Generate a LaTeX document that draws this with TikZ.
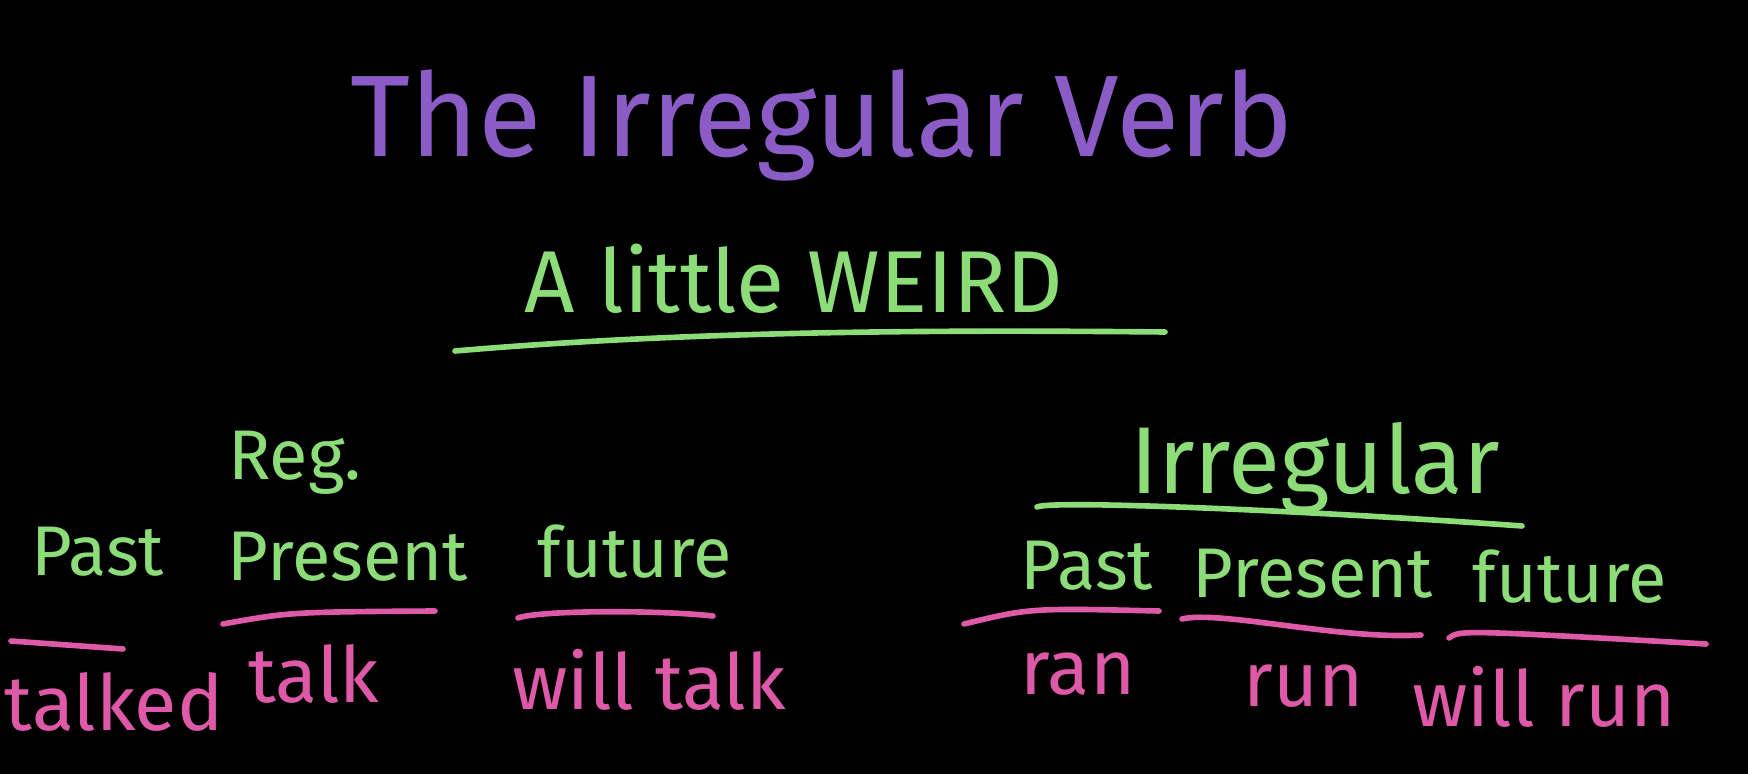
\documentclass[tikz,border=0pt]{standalone}
\usepackage{fontspec}
\setmainfont{Fira Sans}
\usetikzlibrary{positioning}
\definecolor{board}{HTML}{000000}
\definecolor{chalkpurple}{HTML}{8B5CC6}
\definecolor{chalkgreen}{HTML}{8CDC78}
\definecolor{chalkpink}{HTML}{DE5AA8}

\begin{document}
\begin{tikzpicture}[
   heading/.style={text=chalkpurple,font=\fontsize{33}{36}\selectfont,inner sep=0pt},
   remark/.style={text=chalkgreen,font=\fontsize{25}{28}\selectfont,inner sep=0pt},
   tense/.style={text=chalkgreen,font=\fontsize{20}{24}\selectfont,inner sep=0pt},
   group/.style={text=chalkgreen,font=\fontsize{27}{30}\selectfont,inner sep=0pt},
   form/.style={text=chalkpink,font=\fontsize{22}{26}\selectfont,inner sep=0pt},
   greenline/.style={draw=chalkgreen,line width=1.6pt,line cap=round},
   pinkline/.style={draw=chalkpink,line width=1.6pt,line cap=round}]
  % blackboard
  \fill[board] (0,0) rectangle (17.48,-7.74);
  \useasboundingbox (0,0) rectangle (17.48,-7.74);

  \node[heading] (title) at (8.22,-1.25) {The Irregular Verb};
  \node[remark] (weird) at (7.94,-2.79) {A little WEIRD};
  \draw[greenline] (4.55,-3.51) .. controls (7,-3.3) and (9.5,-3.3) .. (11.65,-3.32);

  % regular side
  \node[tense] (reg) at (2.95,-4.63) {Reg.};
  \node[tense] (pastL) at (0.98,-5.52) {Past};
  \node[tense] (presL) at (3.48,-5.57) {Present};
  \node[tense] (futL) at (6.35,-5.52) {future};
  \draw[pinkline] (0.11,-6.41) -- (1.23,-6.49);
  \draw[pinkline] (2.23,-6.24) .. controls (2.9,-6.12) .. (4.35,-6.11);
  \draw[pinkline] (5.18,-6.18) .. controls (5.4,-6.1) and (6.6,-6.1) .. (7.13,-6.16);
  \node[form] (talked) at (1.14,-7.02) {talked};
  \node[form] (talk) at (3.14,-6.74) {talk};
  \node[form] (willtalk) at (6.49,-6.80) {will talk};

  % irregular side
  \node[group] (irreg) at (13.15,-4.68) {Irregular};
  \draw[greenline] (10.37,-5.07) .. controls (10.5,-5.0) and (13,-5.1) .. (15.22,-5.26);
  \node[tense] (pastR) at (10.87,-5.66) {Past};
  \node[tense] (presR) at (13.13,-5.74) {Present};
  \node[tense] (futR) at (15.70,-5.77) {future};
  \draw[pinkline] (9.64,-6.24) .. controls (10.3,-6.08) .. (11.59,-6.11);
  \draw[pinkline] (11.82,-6.19) .. controls (12.2,-6.1) and (13.4,-6.4) .. (14.21,-6.35);
  \draw[pinkline] (14.49,-6.38) .. controls (14.6,-6.3) .. (17.06,-6.44);
  \node[form] (ran) at (10.78,-6.74) {ran};
  \node[form] (run) at (13.04,-6.86) {run};
  \node[form] (willrun) at (15.44,-6.97) {will run};
\end{tikzpicture}
\end{document}
